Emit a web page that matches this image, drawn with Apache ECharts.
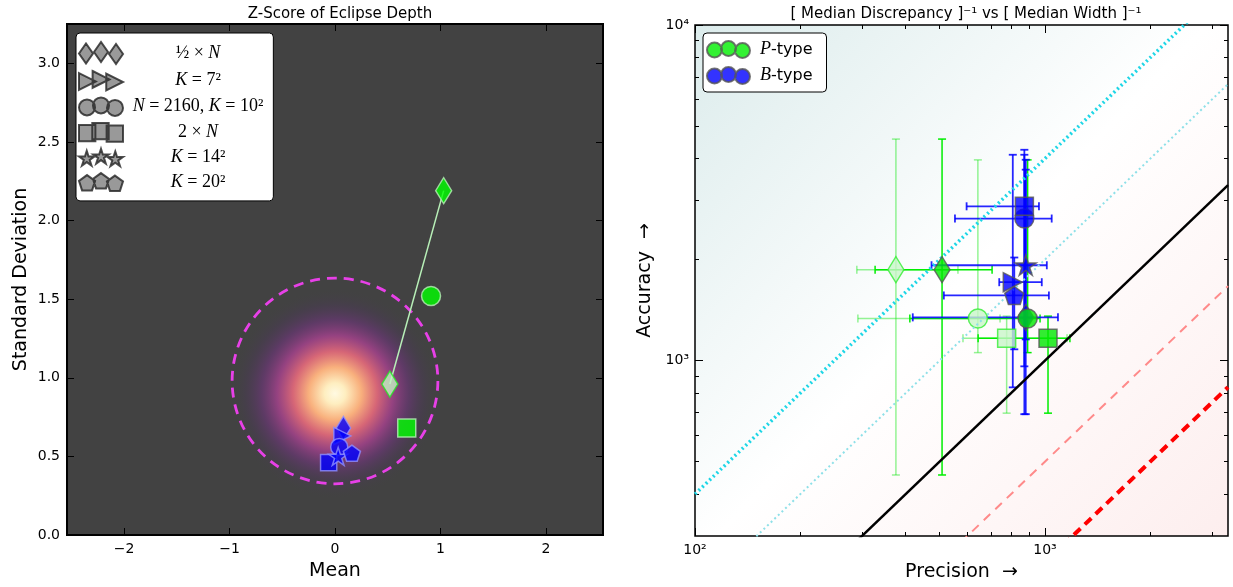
<!DOCTYPE html>
<html><head><meta charset="utf-8">
<script src="https://cdn.jsdelivr.net/npm/echarts@6/dist/echarts.min.js"></script>
<style>html,body{margin:0;padding:0;background:#fff}#c{width:1233px;height:587px}</style>
</head><body><div id="c"></div>
<script>
// ---------------- DATA ----------------
const shapeKeys   = ['diamond', 'triangle', 'circle', 'square', 'star', 'pentagon'];
const shapeLabels = ['½ × N', 'K = 7²', 'N = 2160, K = 10²', '2 × N', 'K = 14²', 'K = 20²'];
const typeLabels  = ['P-type', 'B-type'];

// Left panel: Z-score of eclipse depth  [shape, mean, std]
const zsP      = [['diamond', 1.03, 2.19], ['circle', 0.91, 1.52], ['square', 0.68, 0.68]];
const zsPLight = [['diamond', 0.52, 0.96]];
const zsB      = [['diamond', 0.08, 0.68], ['triangle', 0.07, 0.63], ['circle', 0.04, 0.56],
                  ['square', -0.06, 0.46], ['star', 0.03, 0.50], ['pentagon', 0.16, 0.52]];
const zsGlow   = [[0, 0.90, 1.0]];    // centre mean, centre std, radius (mean units)
const zsRing   = [[0, 0.98, 0.975]];
const zsXLim   = [-2.54, 2.54];
const zsYLim   = [0, 3.25];
const zsXTicks = [-2, -1, 0, 1, 2];
const zsYTicks = [0, 0.5, 1.0, 1.5, 2.0, 2.5, 3.0];

// Right panel: [shape, precision, accuracy, precLo, precHi, accLo, accHi]
const paP = [
  ['diamond', 508, 1866, 327, 706, 456, 4571],
  ['circle', 892, 1335, 411, 968, 1056, 3963],
  ['square', 1020, 1165, 644, 1178, 697, 1356]];
const paPLight = [
  ['diamond', 375, 1866, 290, 564, 456, 4571],
  ['circle', 643, 1335, 292, 744, 1056, 3963],
  ['square', 777, 1165, 583, 1156, 697, 1356]];
const paB = [
  ['diamond', 881, 1345, 419, 1089, 692, 3706],
  ['triangle', 809, 1712, 740, 979, 832, 4105],
  ['circle', 873, 2650, 553, 1045, 692, 4105],
  ['square', 873, 2882, 597, 961, 961, 4248],
  ['star', 881, 1923, 474, 1012, 1156, 3967],
  ['pentagon', 817, 1563, 514, 1026, 1080, 2028]];
const paRatios = [4, 2, 1, 0.5, 0.25];
const paXLim = [100, 3333];
const paYLim = [300, 10000];
const paXMajor = [100, 1000];
const paXMinor = [200, 300, 400, 500, 600, 700, 800, 900, 2000, 3000];
const paYMajor = [1000, 10000];
const paYMinor = [400, 500, 600, 700, 800, 900, 2000, 3000, 4000, 5000, 6000, 7000, 8000, 9000];

// ---------------- STYLE HELPERS ----------------
const SANS = 'DejaVu Sans', SERIF = 'Liberation Serif';
function poly(pts) { return 'M' + pts.map(p => p[0].toFixed(2) + ',' + p[1].toFixed(2)).join('L') + 'Z'; }
function starPoly(cx, cy, R) { const p = []; for (let k = 0; k < 10; k++) { const a = (-90 + 36 * k) * Math.PI / 180, r = k % 2 ? R * 0.382 : R; p.push([cx + r * Math.cos(a), cy + r * Math.sin(a)]); } return poly(p); }
function regPoly(cx, cy, R, n) { const p = []; for (let k = 0; k < n; k++) { const a = (-90 + 360 / n * k) * Math.PI / 180; p.push([cx + R * Math.cos(a), cy + R * Math.sin(a)]); } return poly(p); }
function circ(cx, cy, r) { return `M${cx - r},${cy}A${r},${r} 0 1 0 ${cx + r},${cy}A${r},${r} 0 1 0 ${cx - r},${cy}Z`; }
function diam(cx, cy, hw, hh) { return poly([[cx - hw, cy], [cx, cy - hh], [cx + hw, cy], [cx, cy + hh]]); }
function triR(x0, cy, w, hh) { return poly([[x0, cy - hh], [x0 + w, cy], [x0, cy + hh]]); }
function sq(x0, y0, s) { return poly([[x0, y0], [x0 + s, y0], [x0 + s, y0 + s], [x0, y0 + s]]); }

const SYM = {
  diamond:  { symbol: 'diamond', size: [16, 26] },
  triangle: { symbol: 'triangle', size: [19, 19], rotate: -90 },
  circle:   { symbol: 'circle', size: 19 },
  square:   { symbol: 'rect', size: 18 },
  star:     { symbol: 'path://' + starPoly(50, 50, 50), size: [21, 20] },
  pentagon: { symbol: 'path://' + regPoly(50, 50, 50, 5), size: [19, 18] }
};
const LEG_ICON = {
  diamond:  'path://' + diam(7, 11.5, 7, 10) + diam(22, 10, 7, 10) + diam(37, 12, 7, 10),
  triangle: 'path://' + triR(0, 12, 16, 8) + triR(13, 10, 16, 8) + triR(26, 12.5, 16, 8),
  circle:   'path://' + circ(8, 12, 8) + circ(22, 10, 8) + circ(36, 12.5, 8),
  square:   'path://' + sq(0, 4, 16) + sq(13, 2, 16) + sq(27, 4.5, 16),
  star:     'path://' + starPoly(7.5, 12, 8) + starPoly(21.5, 10, 8) + starPoly(35.5, 12.5, 8),
  pentagon: 'path://' + regPoly(8, 12.5, 8.5, 5) + regPoly(22, 10.5, 8.5, 5) + regPoly(36, 13, 8.5, 5)
};
const CIRC3 = 'path://' + circ(7.5, 9, 7.5) + circ(21.5, 7.5, 7.5) + circ(35.5, 9.5, 7.5);

function symOf(shape, scale) {
  const d = SYM[shape], s = d.size;
  return { symbol: d.symbol, symbolSize: Array.isArray(s) ? s.map(v => v * scale) : s * scale, symbolRotate: d.rotate || 0 };
}
function scatter(rows, xa, ya, style, scale, z) {
  return { type: 'scatter', xAxisIndex: xa, yAxisIndex: ya, z, silent: true, itemStyle: style,
    data: rows.map(r => Object.assign({ value: [r[1], r[2]] }, symOf(r[0], scale))) };
}
function errBars(rows, xa, ya, color, width, cap, z) {
  return { type: 'custom', xAxisIndex: xa, yAxisIndex: ya, z, silent: true, clip: true,
    encode: { x: [0, 2, 3], y: [1, 4, 5] },
    data: rows.map(r => [r[1], r[2], r[3], r[4], r[5], r[6]]),
    renderItem: (p, api) => {
      const x = api.value(0), y = api.value(1);
      const a = api.coord([api.value(2), y]), b = api.coord([api.value(3), y]);
      const c = api.coord([x, api.value(4)]), d = api.coord([x, api.value(5)]);
      const st = { stroke: color, lineWidth: width };
      const L = (x1, y1, x2, y2) => ({ type: 'line', shape: { x1, y1, x2, y2 }, style: st });
      return { type: 'group', children: [
        L(a[0], a[1], b[0], b[1]), L(c[0], c[1], d[0], d[1]),
        L(a[0], a[1] - cap, a[0], a[1] + cap), L(b[0], b[1] - cap, b[0], b[1] + cap),
        L(c[0] - cap, c[1], c[0] + cap, c[1]), L(d[0] - cap, d[1], d[0] + cap, d[1])
      ] };
    } };
}
const SUP = { '2': '²', '3': '³', '4': '⁴' };
const fmtMinus = v => v < 0 ? '\u2212' + (-v) : String(v);
const fmtPow = v => '10' + SUP[String(Math.round(Math.log10(v)))];
const tickFont = { color: '#000', fontSize: 14, fontFamily: SANS };
const nameFont = { color: '#000', fontSize: 19, fontFamily: SANS };

function axis(o) {
  const ax = {
    gridIndex: o.grid, type: o.type || 'value', min: o.lim[0], max: o.lim[1], position: o.pos,
    axisLine: { show: false, onZero: false },
    axisTick: { show: true, inside: true, length: o.len, customValues: o.ticks, lineStyle: { color: '#000', width: 1 } },
    axisLabel: o.labels ? Object.assign({ customValues: o.ticks, formatter: o.fmt, margin: o.margin || 6 }, tickFont) : { show: false },
    splitLine: { show: false }, minorTick: { show: false }
  };
  if (o.type === 'log') ax.logBase = 10;
  if (o.name) Object.assign(ax, { name: o.name, nameLocation: 'middle', nameGap: o.gap, nameTextStyle: nameFont });
  return ax;
}

// ---------------- OPTION ----------------
const xAxes = [
  axis({ grid: 0, lim: zsXLim, pos: 'bottom', len: 7, ticks: zsXTicks, labels: true, fmt: fmtMinus, name: 'Mean', gap: 27, margin: 7 }),
  axis({ grid: 0, lim: zsXLim, pos: 'top', len: 7, ticks: zsXTicks }),
  axis({ grid: 1, type: 'log', lim: paXLim, pos: 'bottom', len: 8, ticks: paXMajor, labels: true, fmt: fmtPow, name: 'Precision  →', gap: 27, margin: 7 }),
  axis({ grid: 1, type: 'log', lim: paXLim, pos: 'top', len: 8, ticks: paXMajor }),
  axis({ grid: 1, type: 'log', lim: paXLim, pos: 'bottom', len: 4, ticks: paXMinor }),
  axis({ grid: 1, type: 'log', lim: paXLim, pos: 'top', len: 4, ticks: paXMinor })
];
const yAxes = [
  axis({ grid: 0, lim: zsYLim, pos: 'left', len: 7, ticks: zsYTicks, labels: true, fmt: v => v.toFixed(1), name: 'Standard Deviation', gap: 36, margin: 7 }),
  axis({ grid: 0, lim: zsYLim, pos: 'right', len: 7, ticks: zsYTicks }),
  axis({ grid: 1, type: 'log', lim: paYLim, pos: 'left', len: 8, ticks: paYMajor, labels: true, fmt: fmtPow, name: 'Accuracy  →', gap: 40, margin: 6 }),
  axis({ grid: 1, type: 'log', lim: paYLim, pos: 'right', len: 8, ticks: paYMajor }),
  axis({ grid: 1, type: 'log', lim: paYLim, pos: 'left', len: 4, ticks: paYMinor }),
  axis({ grid: 1, type: 'log', lim: paYLim, pos: 'right', len: 4, ticks: paYMinor })
];

const series = [];
// left decorations
series.push({ type: 'custom', xAxisIndex: 0, yAxisIndex: 0, z: 1, silent: true, clip: true, encode: { x: 0, y: 1 }, data: zsGlow,
  renderItem: (p, api) => { const c = api.coord([api.value(0), api.value(1)]); const r = api.size([api.value(2), 0])[0];
    return { type: 'circle', shape: { cx: c[0], cy: c[1], r },
      style: { fill: new echarts.graphic.RadialGradient(0.5, 0.5, 0.5, [
        { offset: 0, color: 'rgba(255,250,226,1)' }, { offset: 0.1, color: 'rgba(254,238,192,1)' },
        { offset: 0.25, color: 'rgba(252,178,126,0.98)' }, { offset: 0.4, color: 'rgba(230,106,124,0.9)' },
        { offset: 0.55, color: 'rgba(172,66,146,0.78)' }, { offset: 0.7, color: 'rgba(116,52,130,0.55)' },
        { offset: 0.85, color: 'rgba(82,52,100,0.25)' }, { offset: 1, color: 'rgba(66,66,66,0)' }]) } }; } });
series.push({ type: 'custom', xAxisIndex: 0, yAxisIndex: 0, z: 2, silent: true, encode: { x: 0, y: 1 }, data: zsRing,
  renderItem: (p, api) => { const c = api.coord([api.value(0), api.value(1)]); const r = api.size([api.value(2), 0])[0];
    return { type: 'circle', shape: { cx: c[0], cy: c[1], r }, style: { fill: 'none', stroke: '#e840e8', lineWidth: 2.8, lineDash: [10, 7] } }; } });
series.push({ type: 'line', xAxisIndex: 0, yAxisIndex: 0, z: 3, silent: true, symbol: 'none',
  lineStyle: { color: '#b8f0b8', width: 1.5 }, data: [[zsPLight[0][1], zsPLight[0][2]], [zsP[0][1], zsP[0][2]]] });
series.push(scatter(zsB, 0, 0, { color: '#0000ff', borderColor: '#9090ff', borderWidth: 1.5 }, 0.9, 4));
series.push(scatter(zsPLight, 0, 0, { color: '#c4f2c4', borderColor: '#22ee22', borderWidth: 1.5 }, 1, 5));
series.push(scatter(zsP, 0, 0, { color: '#00ff00', borderColor: '#b8f0b8', borderWidth: 1.5 }, 1, 5));

// right panel
const refStyles = [
  { color: '#1ed6e6', width: 3.5, type: [2, 3] },
  { color: '#8ee0e8', width: 2, type: [2, 3] },
  { color: '#000000', width: 2.5, type: 'solid' },
  { color: '#ff8a8a', width: 2, type: [9, 7] },
  { color: '#ff0000', width: 4, type: [9, 6] }];
paRatios.forEach((k, i) => series.push({ type: 'line', xAxisIndex: 2, yAxisIndex: 2, z: 4, silent: true, symbol: 'none', clip: true,
  lineStyle: refStyles[i], data: paXLim.map(x => [x, k * x]) }));
series.push(errBars(paPLight, 2, 2, 'rgba(20,230,20,0.45)', 1.5, 4, 2));
series.push(scatter(paPLight, 2, 2, { color: '#c8f5c8', borderColor: '#33ee33', borderWidth: 1.5 }, 1, 3));
series.push(errBars(paP, 2, 2, '#00ee00', 1.5, 4, 3));
series.push(errBars(paB, 2, 2, 'rgba(0,0,255,0.85)', 1.8, 4, 3));
series.push(scatter(paB, 2, 2, { color: '#0000ff', borderColor: '#555', borderWidth: 1.5 }, 1, 5));
series.push(scatter(paP, 2, 2, { color: '#00e800', borderColor: '#555', borderWidth: 1.5 }, 1, 6));

// legend placeholder series
shapeLabels.forEach(n => series.push({ type: 'scatter', name: n, xAxisIndex: 0, yAxisIndex: 0, data: [],
  itemStyle: { color: '#808080', borderColor: '#222', borderWidth: 1 } }));
series.push({ type: 'scatter', name: typeLabels[0], xAxisIndex: 2, yAxisIndex: 2, data: [], itemStyle: { color: '#00ee00', borderColor: '#555', borderWidth: 1 } });
series.push({ type: 'scatter', name: typeLabels[1], xAxisIndex: 2, yAxisIndex: 2, data: [], itemStyle: { color: '#0000ff', borderColor: '#555', borderWidth: 1 } });

const legRich = {
  r: { fontFamily: SERIF, fontSize: 18, color: '#000', align: 'center' },
  i: { fontFamily: SERIF, fontSize: 18, fontStyle: 'italic', color: '#000', align: 'center' }
};
const legMarkup = {
  '½ × N': '{r|½ × }{i|N}',
  'K = 7²': '{i|K}{r| = 7²}',
  'N = 2160, K = 10²': '{i|N}{r| = 2160, }{i|K}{r| = 10²}',
  '2 × N': '{r|2 × }{i|N}',
  'K = 14²': '{i|K}{r| = 14²}',
  'K = 20²': '{i|K}{r| = 20²}'
};

const option = {
  animation: false,
  backgroundColor: '#ffffff',
  title: [
    { text: 'Z-Score of Eclipse Depth', left: 335, top: 2, textAlign: 'center', textStyle: { fontFamily: SANS, fontSize: 15, fontWeight: 'normal', color: '#000' } },
    { text: '[ Median Discrepancy ]⁻¹ vs [ Median Width ]⁻¹', left: 961, top: 2, textAlign: 'center', textStyle: { fontFamily: SANS, fontSize: 15, fontWeight: 'normal', color: '#000' } }
  ],
  grid: [
    { left: 67, top: 24, width: 536, height: 511, show: true, backgroundColor: '#424242', borderColor: '#000', borderWidth: 2 },
    { left: 695, top: 25, width: 533, height: 512, show: true, borderColor: '#000', borderWidth: 1.5,
      backgroundColor: new echarts.graphic.LinearGradient(0, 0, 1, 1, [
        { offset: 0, color: '#dcecec' }, { offset: 0.5, color: '#ffffff' }, { offset: 1, color: '#fdeeee' }]) }
  ],
  xAxis: xAxes, yAxis: yAxes,
  legend: [
    { orient: 'vertical', left: 76, top: 33, itemWidth: 44, itemHeight: 22, itemGap: 5, selectedMode: false,
      backgroundColor: '#fff', borderColor: '#000', borderWidth: 1, borderRadius: 4, padding: [8, 10, 9, 2],
      data: shapeLabels.map((n, i) => ({ name: n, icon: LEG_ICON[shapeKeys[i]] })),
      formatter: n => legMarkup[n], textStyle: { width: 140, rich: legRich } },
    { orient: 'vertical', left: 703, top: 33, itemWidth: 43, itemHeight: 18, itemGap: 7, selectedMode: false,
      backgroundColor: '#fff', borderColor: '#000', borderWidth: 1, borderRadius: 4, padding: [7, 14, 7, 3],
      data: typeLabels.map(n => ({ name: n, icon: CIRC3 })),
      formatter: n => '{i|' + n[0] + '}{r|' + n.slice(1) + '}',
      textStyle: { rich: { i: { fontFamily: SERIF, fontStyle: 'italic', fontSize: 18, color: '#000', padding: [0, 0, 0, 5] }, r: { fontFamily: SANS, fontSize: 16, color: '#000' } } } }
  ],
  series
};
const chart = echarts.init(document.getElementById('c'), null, { renderer: 'canvas' });
chart.setOption(option);
</script></body></html>
